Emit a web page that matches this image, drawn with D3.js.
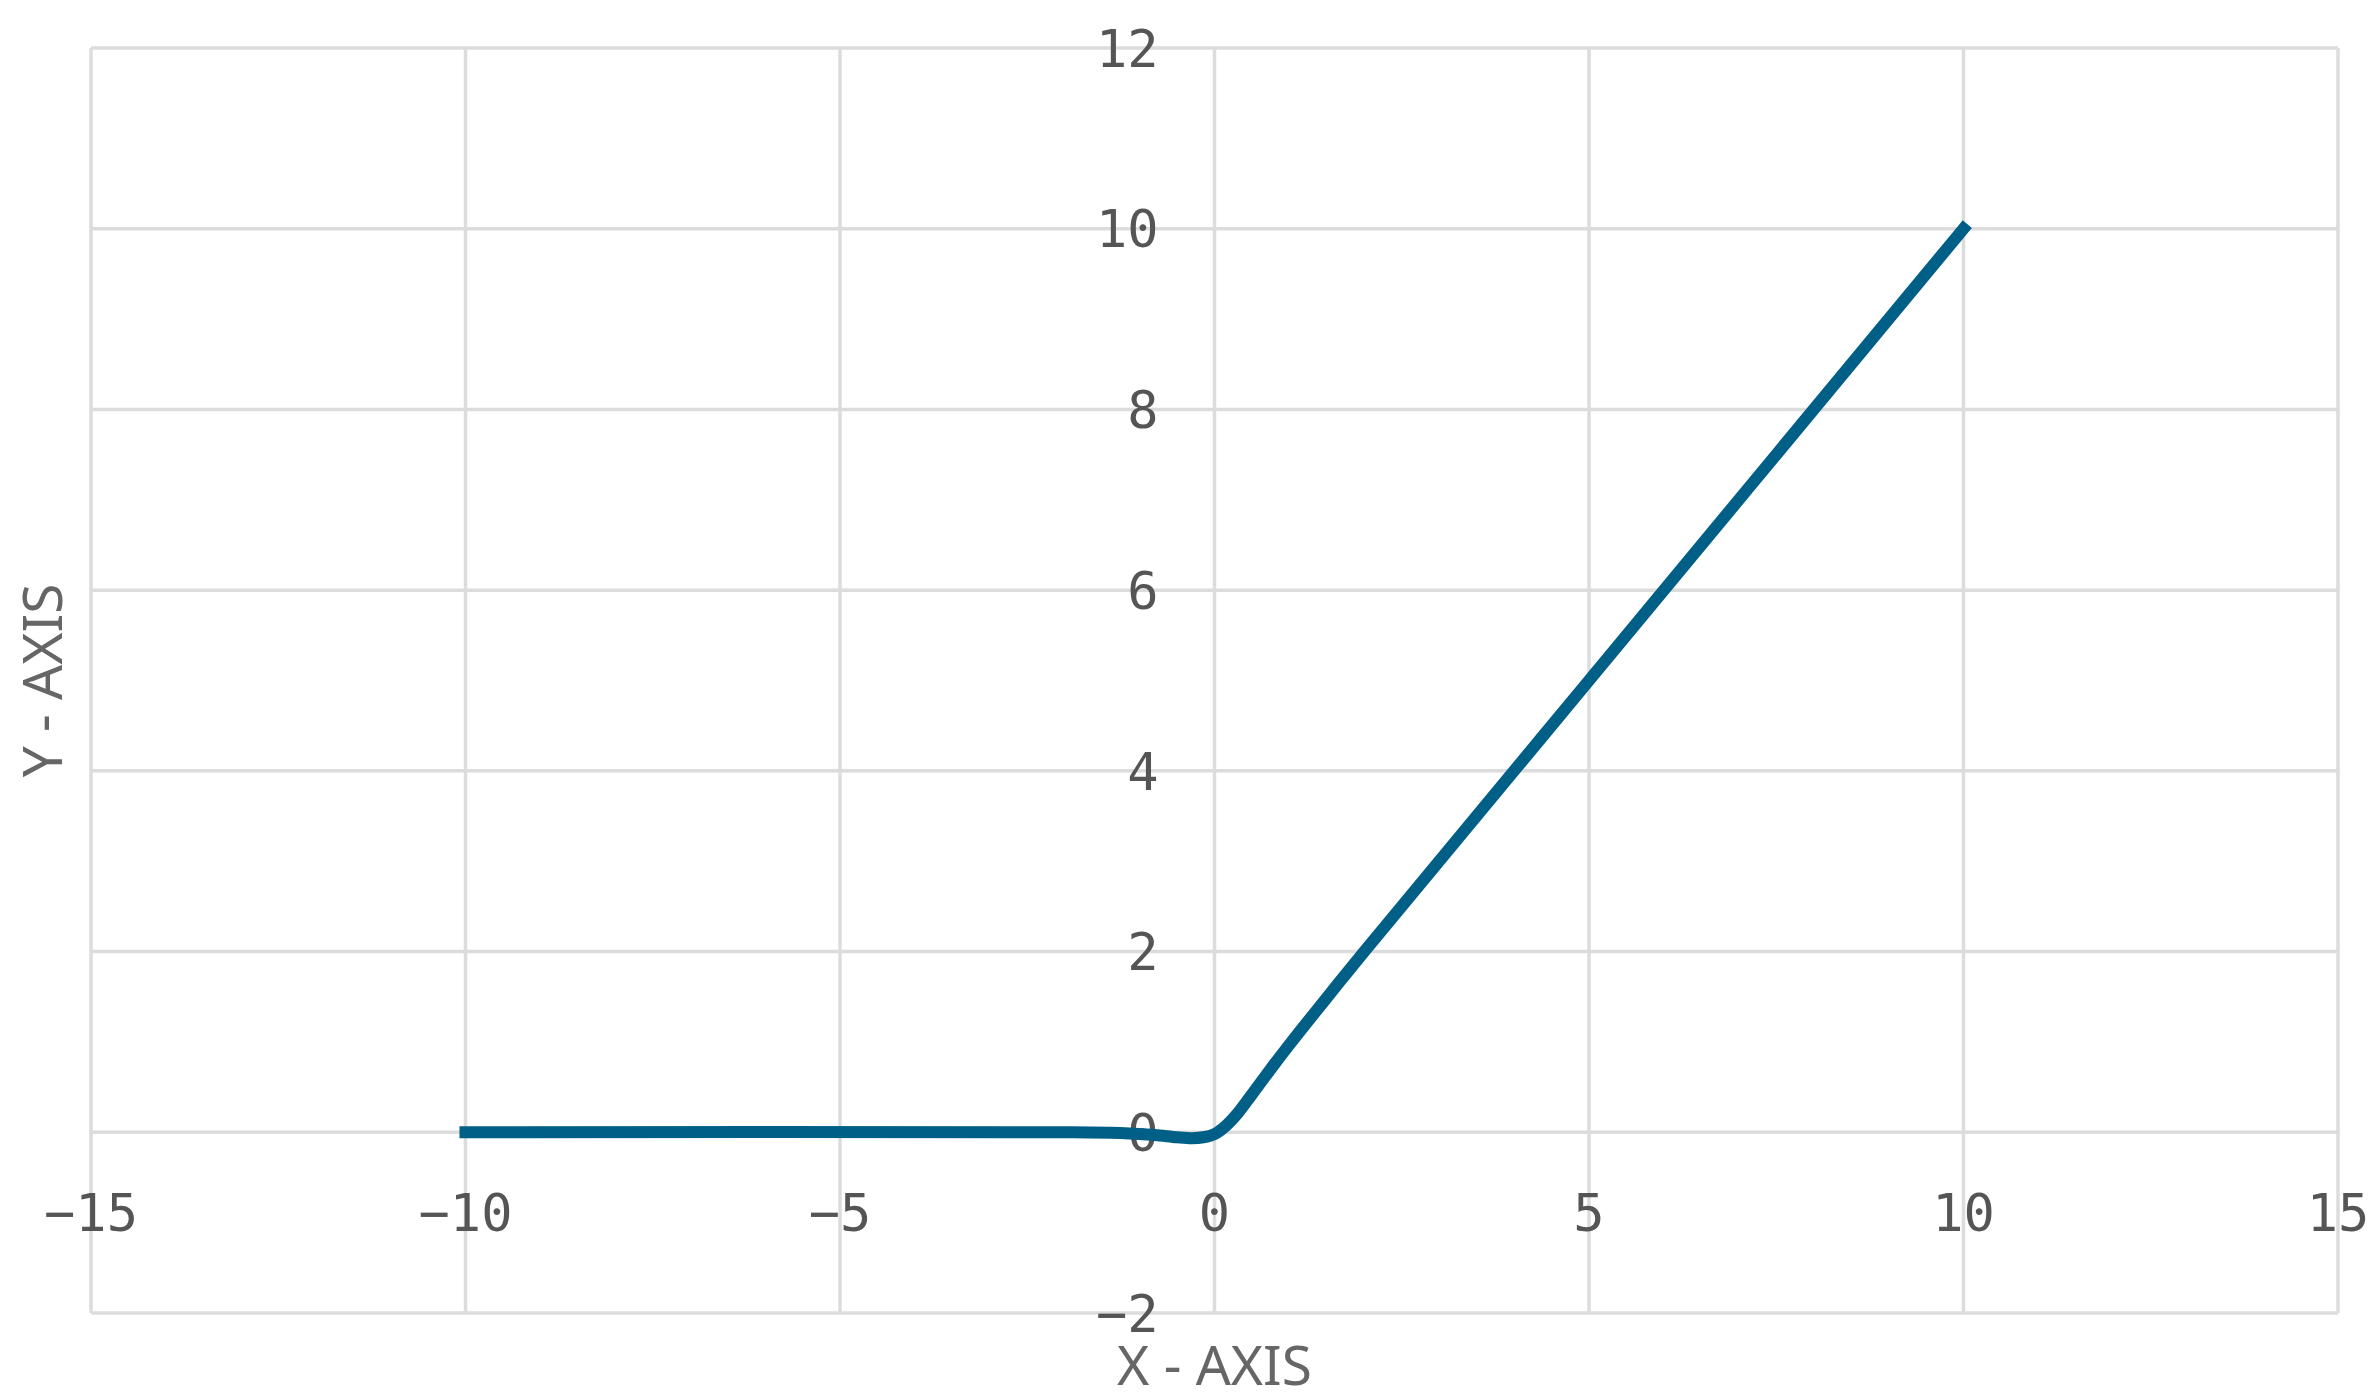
<!DOCTYPE html>
<html>
<head>
<meta charset="utf-8">
<script src="https://cdn.jsdelivr.net/npm/d3@7"></script>
<style>
    body { margin: 0; background: #fff; }
</style>
</head>
<body>
<svg></svg>
<script>
const width = 2379;
const height = 1400;

// curve
const xValues = [-10, -2, -1.2, -0.8, -0.5, -0.3, -0.15, 0, 0.15, 0.3, 0.5, 0.75, 1, 1.5, 2, 5, 10];
const yValues = [0, 0, -0.01, -0.03, -0.055, -0.065, -0.055, -0.02, 0.07, 0.2, 0.42, 0.7, 0.97, 1.49, 2.0, 5.0, 10.0];
const xTicks = [-15, -10, -5, 0, 5, 10, 15];
const yTicks = [-2, 0, 2, 4, 6, 8, 10, 12];

const margin = {top: 48, right: 41, bottom: 87, left: 91};

let svg = d3.select("svg")
    .attr("width", width)
    .attr("height", height)
    .attr("viewBox", [0, 0, width, height]);

let x = d3.scaleLinear()
    .domain([-15, 15])
    .range([margin.left, width - margin.right]);
let y = d3.scaleLinear()
    .domain([-2, 12])
    .range([height - margin.bottom, margin.top]);

let grid = svg.append("g")
    .attr("stroke", "#dcdcdc")
    .attr("stroke-width", 3.5);
grid.selectAll("line.v")
    .data(xTicks)
    .join("line")
    .classed("v", true)
    .attr("x1", d => x(d))
    .attr("x2", d => x(d))
    .attr("y1", y(-2))
    .attr("y2", y(12));
grid.selectAll("line.h")
    .data(yTicks)
    .join("line")
    .classed("h", true)
    .attr("x1", x(-15))
    .attr("x2", x(15))
    .attr("y1", d => y(d))
    .attr("y2", d => y(d));

const fmt = d => d < 0 ? "\u2212" + Math.abs(d) : String(d);

// spines sit at zero but are hidden, only labels show
svg.append("g")
    .attr("font-family", "DejaVu Sans Mono")
    .attr("font-size", 52)
    .attr("fill", "#555")
    .attr("text-anchor", "middle")
    .selectAll("text")
    .data(xTicks)
    .join("text")
    .attr("x", d => x(d))
    .attr("y", y(0) + 99)
    .text(fmt);

svg.append("g")
    .attr("font-family", "DejaVu Sans Mono")
    .attr("font-size", 52)
    .attr("fill", "#555")
    .attr("text-anchor", "end")
    .selectAll("text")
    .data(yTicks)
    .join("text")
    .attr("x", x(0) - 56)
    .attr("y", d => y(d))
    .attr("dy", "0.36em")
    .text(fmt);

let data = xValues.map((d, i) => ({x: d, y: yValues[i]}));
let line = d3.line()
    .x(d => x(d.x))
    .y(d => y(d.y))
    .curve(d3.curveCatmullRom.alpha(0.5));

svg.append("path")
    .datum(data)
    .attr("fill", "none")
    .attr("stroke", "#005f86")
    .attr("stroke-width", 12)
    .attr("stroke-linecap", "square")
    .attr("stroke-linejoin", "round")
    .attr("d", line);

svg.append("text")
    .attr("x", x(0))
    .attr("y", 1385)
    .attr("text-anchor", "middle")
    .attr("font-family", "Noto Sans")
    .attr("font-size", 55)
    .attr("fill", "#666")
    .text("X - AXIS");

svg.append("text")
    .attr("transform", "translate(62," + (y(-2) + y(12)) / 2 + ") rotate(-90)")
    .attr("text-anchor", "middle")
    .attr("font-family", "Noto Sans")
    .attr("font-size", 55)
    .attr("fill", "#666")
    .text("Y - AXIS");
</script>
</body>
</html>
